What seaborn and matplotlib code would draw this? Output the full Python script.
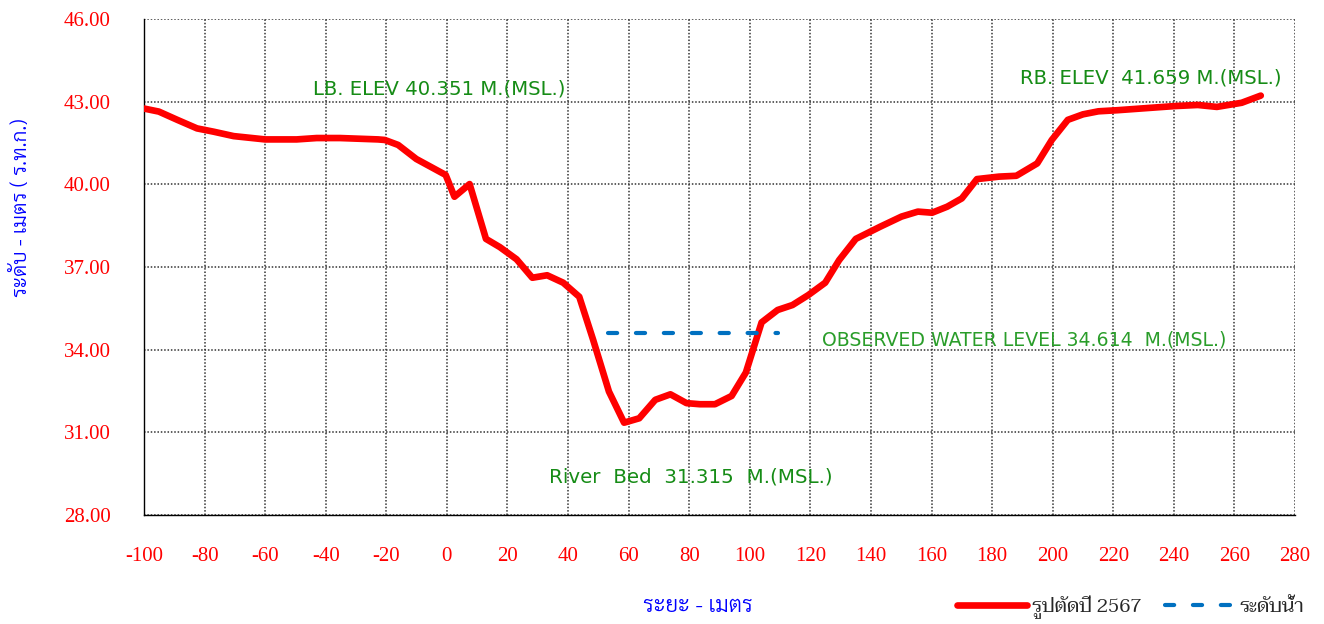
import matplotlib
matplotlib.use('Agg')
import matplotlib.pyplot as plt
from matplotlib import font_manager
import seaborn as sns
import pandas as pd

# cross section (distance m, elevation m MSL)
section_x = [-100, -95.1, -89.0, -82.5, -77.0, -70.4, -60.0, -49.6, -43.0, -35.3, -22.7, -20.5,
             -16.1, -10.1, -0.4, 2.5, 7.5, 12.9, 17.5, 23.0, 28.2, 33.1, 38.4, 43.7, 48.3,
             53.5, 58.5, 63.5, 68.8, 73.8, 79.1, 83.5, 88.5, 94.0, 98.7, 103.9, 109.2, 114.1,
             119.3, 124.9, 129.5, 135.0, 143.2, 150.1, 155.5, 160.2, 165.2, 170.0, 175.0,
             182.3, 188.0, 194.9, 199.7, 205.0, 210.0, 215.1, 221.4, 230.2, 240.3, 247.9,
             254.2, 262.4, 268.7]
section_y = [42.75, 42.64, 42.34, 42.03, 41.91, 41.75, 41.63, 41.63, 41.68, 41.68, 41.63, 41.61,
             41.43, 40.92, 40.34, 39.55, 40.01, 38.02, 37.72, 37.28, 36.61, 36.70, 36.43, 35.92,
             34.35, 32.48, 31.35, 31.51, 32.18, 32.38, 32.06, 32.02, 32.02, 32.32, 33.17, 34.99,
             35.44, 35.62, 35.98, 36.43, 37.25, 38.02, 38.47, 38.83, 39.01, 38.97, 39.19, 39.49,
             40.19, 40.28, 40.31, 40.76, 41.61, 42.34, 42.54, 42.65, 42.69, 42.76, 42.84, 42.88,
             42.81, 42.96, 43.22]
water_x = [53.3, 109.4]
water_y = [34.614, 34.614]

y_ticks = [28, 31, 34, 37, 40, 43, 46]
x_ticks = list(range(-100, 281, 20))

sec = pd.DataFrame({'dist': section_x, 'elev': section_y})
wl = pd.DataFrame({'dist': water_x, 'elev': water_y})

sns.set_style('white')
plt.rcParams['axes.unicode_minus'] = False

# pick Thai-capable fonts that are installed
names = {f.name for f in font_manager.fontManager.ttflist}
thai_sans = next((n for n in ['Sarabun', 'Noto Sans Thai Looped', 'Noto Sans Thai', 'Anuphan'] if n in names), 'DejaVu Sans')
thai_serif = next((n for n in ['Taviraj', 'Trirong', 'Noto Serif Thai', 'Charmonman'] if n in names), thai_sans)
serif = 'Liberation Serif'

fig = plt.figure(figsize=(13.24, 6.24), dpi=100)
ax = fig.add_axes([144 / 1324, 1 - 515 / 624, (1295 - 144) / 1324, (515 - 19) / 624])

sns.lineplot(data=sec, x='dist', y='elev', ax=ax, color='#ff0000', linewidth=4.8,
             solid_capstyle='round', label='รูปตัดปี 2567', legend=False, zorder=3)
sns.lineplot(data=wl, x='dist', y='elev', ax=ax, color='#0070c0', linewidth=3,
             linestyle=(0, (2.2, 4.5)), dash_capstyle='round', label='ระดับน้ำ', legend=False, zorder=3)

ax.set_xlim(-100, 280)
ax.set_ylim(28, 46)
ax.set_xticks(x_ticks)
ax.set_yticks(y_ticks)
ax.set_yticklabels(['%.2f' % v for v in y_ticks])
ax.set_xlabel('')
ax.set_ylabel('')
ax.grid(True, color='#333333', linestyle=(0, (1, 1.2)), linewidth=1.1)
for s in ['top', 'right']:
    ax.spines[s].set_visible(False)
for s in ['left', 'bottom']:
    ax.spines[s].set_color('black')
    ax.spines[s].set_linewidth(1.0)
ax.tick_params(axis='both', direction='out', length=8, width=1, color='#555555',
               labelcolor='red', labelsize=15)
ax.tick_params(axis='y', pad=16)
ax.tick_params(axis='x', pad=15)
for lab in ax.get_xticklabels() + ax.get_yticklabels():
    lab.set_fontfamily(serif)

green = '#168c16'
ax.text(-44.2, 43.46, 'LB. ELEV 40.351 M.(MSL.)', color=green, fontsize=14.2, va='center', family='DejaVu Sans')
ax.text(189.2, 43.86, 'RB. ELEV  41.659 M.(MSL.)', color=green, fontsize=14.2, va='center', family='DejaVu Sans')
ax.text(123.8, 34.35, 'OBSERVED WATER LEVEL 34.614  M.(MSL.)', color='#2a9d2a', fontsize=13.6, va='center', family='DejaVu Sans')
ax.text(33.7, 29.38, 'River  Bed  31.315  M.(MSL.)', color=green, fontsize=14.3, va='center', family='DejaVu Sans')

fig.text(22 / 1324, 1 - 208 / 624, 'ระดับ - เมตร ( ร.ท.ก.)', rotation=90, color='#0000ff',
         fontsize=15, fontweight=300, ha='center', va='center', family=[thai_sans, 'DejaVu Sans'])
fig.text(698 / 1324, 1 - 606 / 624, 'ระยะ - เมตร', color='#0000ff', fontsize=16,
         fontweight=300, ha='center', va='center', family=[thai_sans, 'DejaVu Sans'])

h1, l1 = ax.get_legend_handles_labels()
leg_font = {'family': [thai_serif, serif], 'size': 14}
fig.legend([h1[0]], [l1[0]], loc='center left', bbox_to_anchor=(957 / 1324, 1 - 607 / 624),
           frameon=False, borderpad=0, borderaxespad=0, handlelength=3.6, handletextpad=0.25,
           prop=leg_font)
fig.legend([h1[1]], [l1[1]], loc='center left', bbox_to_anchor=(1165 / 1324, 1 - 607 / 624),
           frameon=False, borderpad=0, borderaxespad=0, handlelength=3.6, handletextpad=0.25,
           prop=leg_font)

fig.savefig('out.png', dpi=100)
